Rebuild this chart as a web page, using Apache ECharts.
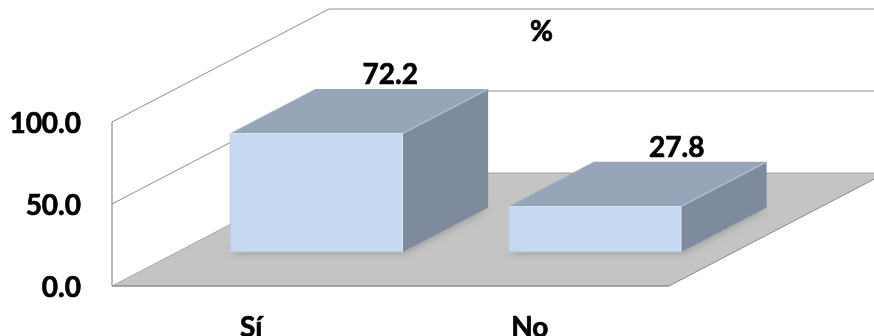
<!DOCTYPE html>
<html><head><meta charset="utf-8">
<style>html,body{margin:0;padding:0;background:#fff}#c{width:874px;height:336px}</style>
<script src="https://cdn.jsdelivr.net/npm/echarts@6/dist/echarts.min.js"></script>
</head><body><div id="c"></div>
<script>
const categories = ['Sí', 'No'];
const values = [72.2, 27.8];
const seriesName = '%';

const FONT = 'Lato, "Open Sans", sans-serif';
const FONT_SIZE = 28;
const INK = { color: '#000', textBorderColor: '#000', textBorderWidth: 0.7 };
const DEPTH_X = 217, DEPTH_Y = -113;       // projection of the chart depth
const BAR_NEAR = 0.30, BAR_FAR = 0.695;    // bar's place along the depth
const BAR_WIDTH = 0.618;                   // share of a category band
const LABEL_SHIFT = [31, 39], LABEL_RISE = -58.5;
const LINE = '#8e8e8e';

function poly(points, fill, extra) {
  return { type: 'polygon', shape: { points }, style: Object.assign({ fill }, extra || {}) };
}
function seg(a, b, stroke, lineWidth) {
  return { type: 'line', shape: { x1: a[0], y1: a[1], x2: b[0], y2: b[1] }, style: { stroke, lineWidth } };
}
function renderRoom(params, api) {
  const cs = params.coordSys;
  const L = cs.x, R = cs.x + cs.width, T = cs.y, B = cs.y + cs.height, M = api.coord([0, 50])[1];
  const dx = DEPTH_X, dy = DEPTH_Y;
  return { type: 'group', children: [
    poly([[L, B], [R, B], [R + dx, B + dy], [L + dx, B + dy]], '#c4c4c4'),
    seg([L, T], [L + dx, T + dy], LINE, 1),
    seg([L + dx, T + dy], [R + dx, T + dy], LINE, 1),
    seg([L, M], [L + dx, M + dy], LINE, 1),
    seg([L + dx, M + dy], [R + dx, M + dy], LINE, 1),
    seg([L, T], [L, B], LINE, 1.2),
    seg([L, B], [L + dx, B + dy], '#a8a8a8', 1),
    seg([L + dx, B + dy], [R + dx, B + dy], '#a0a0a0', 1),
    seg([R, B], [R + dx, B + dy], '#8a8a8a', 1),
    seg([L, B], [R, B], LINE, 1.6)
  ]};
}
function renderBar(params, api) {
  const i = api.value(0), top = api.coord([i, api.value(1)]), base = api.coord([i, 0]);
  const w = api.size([1, 0])[0] * BAR_WIDTH;
  const nx = DEPTH_X * BAR_NEAR, ny = DEPTH_Y * BAR_NEAR;
  const fx = DEPTH_X * (BAR_FAR - BAR_NEAR), fy = DEPTH_Y * (BAR_FAR - BAR_NEAR);
  const x0 = top[0] - w / 2 + nx, x1 = x0 + w;
  const yT = top[1] + ny, yB = base[1] + ny;
  return { type: 'group', children: [
    poly([[x0, yB], [x1, yB], [x1 + fx, yB + fy], [x0 + fx, yB + fy]], '#b4b4b4',
      { shadowBlur: 9, shadowColor: 'rgba(90,90,90,0.55)' }),
    poly([[x0, yT], [x1, yT], [x1 + fx, yT + fy], [x0 + fx, yT + fy]], '#97a5b8'),
    poly([[x1, yT], [x1 + fx, yT + fy], [x1 + fx, yB + fy], [x1, yB]], '#7e8b9c'),
    poly([[x0, yT], [x1, yT], [x1, yB], [x0, yB]], '#c6d9f1'),
    seg([x1, yT], [x1 + fx, yT + fy], '#a9bcd6', 1.5),
    seg([x0, yT], [x0 + fx, yT + fy], '#a6b4c7', 1),
    seg([x0, yT], [x1, yT], '#d3e3f7', 1.2),
    seg([x1, yT], [x1, yB], '#d6e6fa', 1.2),
    seg([x0, yT], [x0, yB], '#b7cbe4', 1),
    seg([x0, yB], [x1, yB], '#a9bcd3', 1),
    { type: 'text', style: {
        text: api.value(1).toFixed(1), x: top[0] + nx + fx / 2 + LABEL_SHIFT[i], y: yT + LABEL_RISE,
        align: 'center', verticalAlign: 'middle', fill: '#000', stroke: '#000', lineWidth: 0.7,
        font: 'bold ' + FONT_SIZE + 'px ' + FONT } }
  ]};
}
const axisText = Object.assign({ fontFamily: FONT, fontWeight: 'bold', fontSize: FONT_SIZE }, INK);
const chart = echarts.init(document.getElementById('c'), null, { renderer: 'canvas' });
chart.setOption({
  animation: false,
  backgroundColor: '#fff',
  title: { text: seriesName, left: 525, top: 13,
    textStyle: Object.assign({}, axisText) },
  grid: { left: 112, right: 205, top: 122, bottom: 50, outerBoundsMode: 'none', containLabel: false },
  xAxis: { type: 'category', data: categories,
    axisLine: { show: false }, axisTick: { show: false },
    axisLabel: Object.assign({ margin: 28 }, axisText) },
  yAxis: { type: 'value', min: 0, max: 100, interval: 50,
    axisLine: { show: false }, axisTick: { show: false }, splitLine: { show: false },
    axisLabel: Object.assign({ margin: 31, formatter: v => '{t|' + v.toFixed(1) + '}',
      rich: { t: Object.assign({ padding: [4, 0, 0, 0] }, axisText) } }, axisText) },
  series: [
    { type: 'custom', name: 'room', silent: true, renderItem: renderRoom, data: [[0, 0]], z: 1 },
    { type: 'custom', name: seriesName, renderItem: renderBar, z: 2,
      data: categories.map((c, i) => [i, values[i]]) }
  ]
});
</script></body></html>
